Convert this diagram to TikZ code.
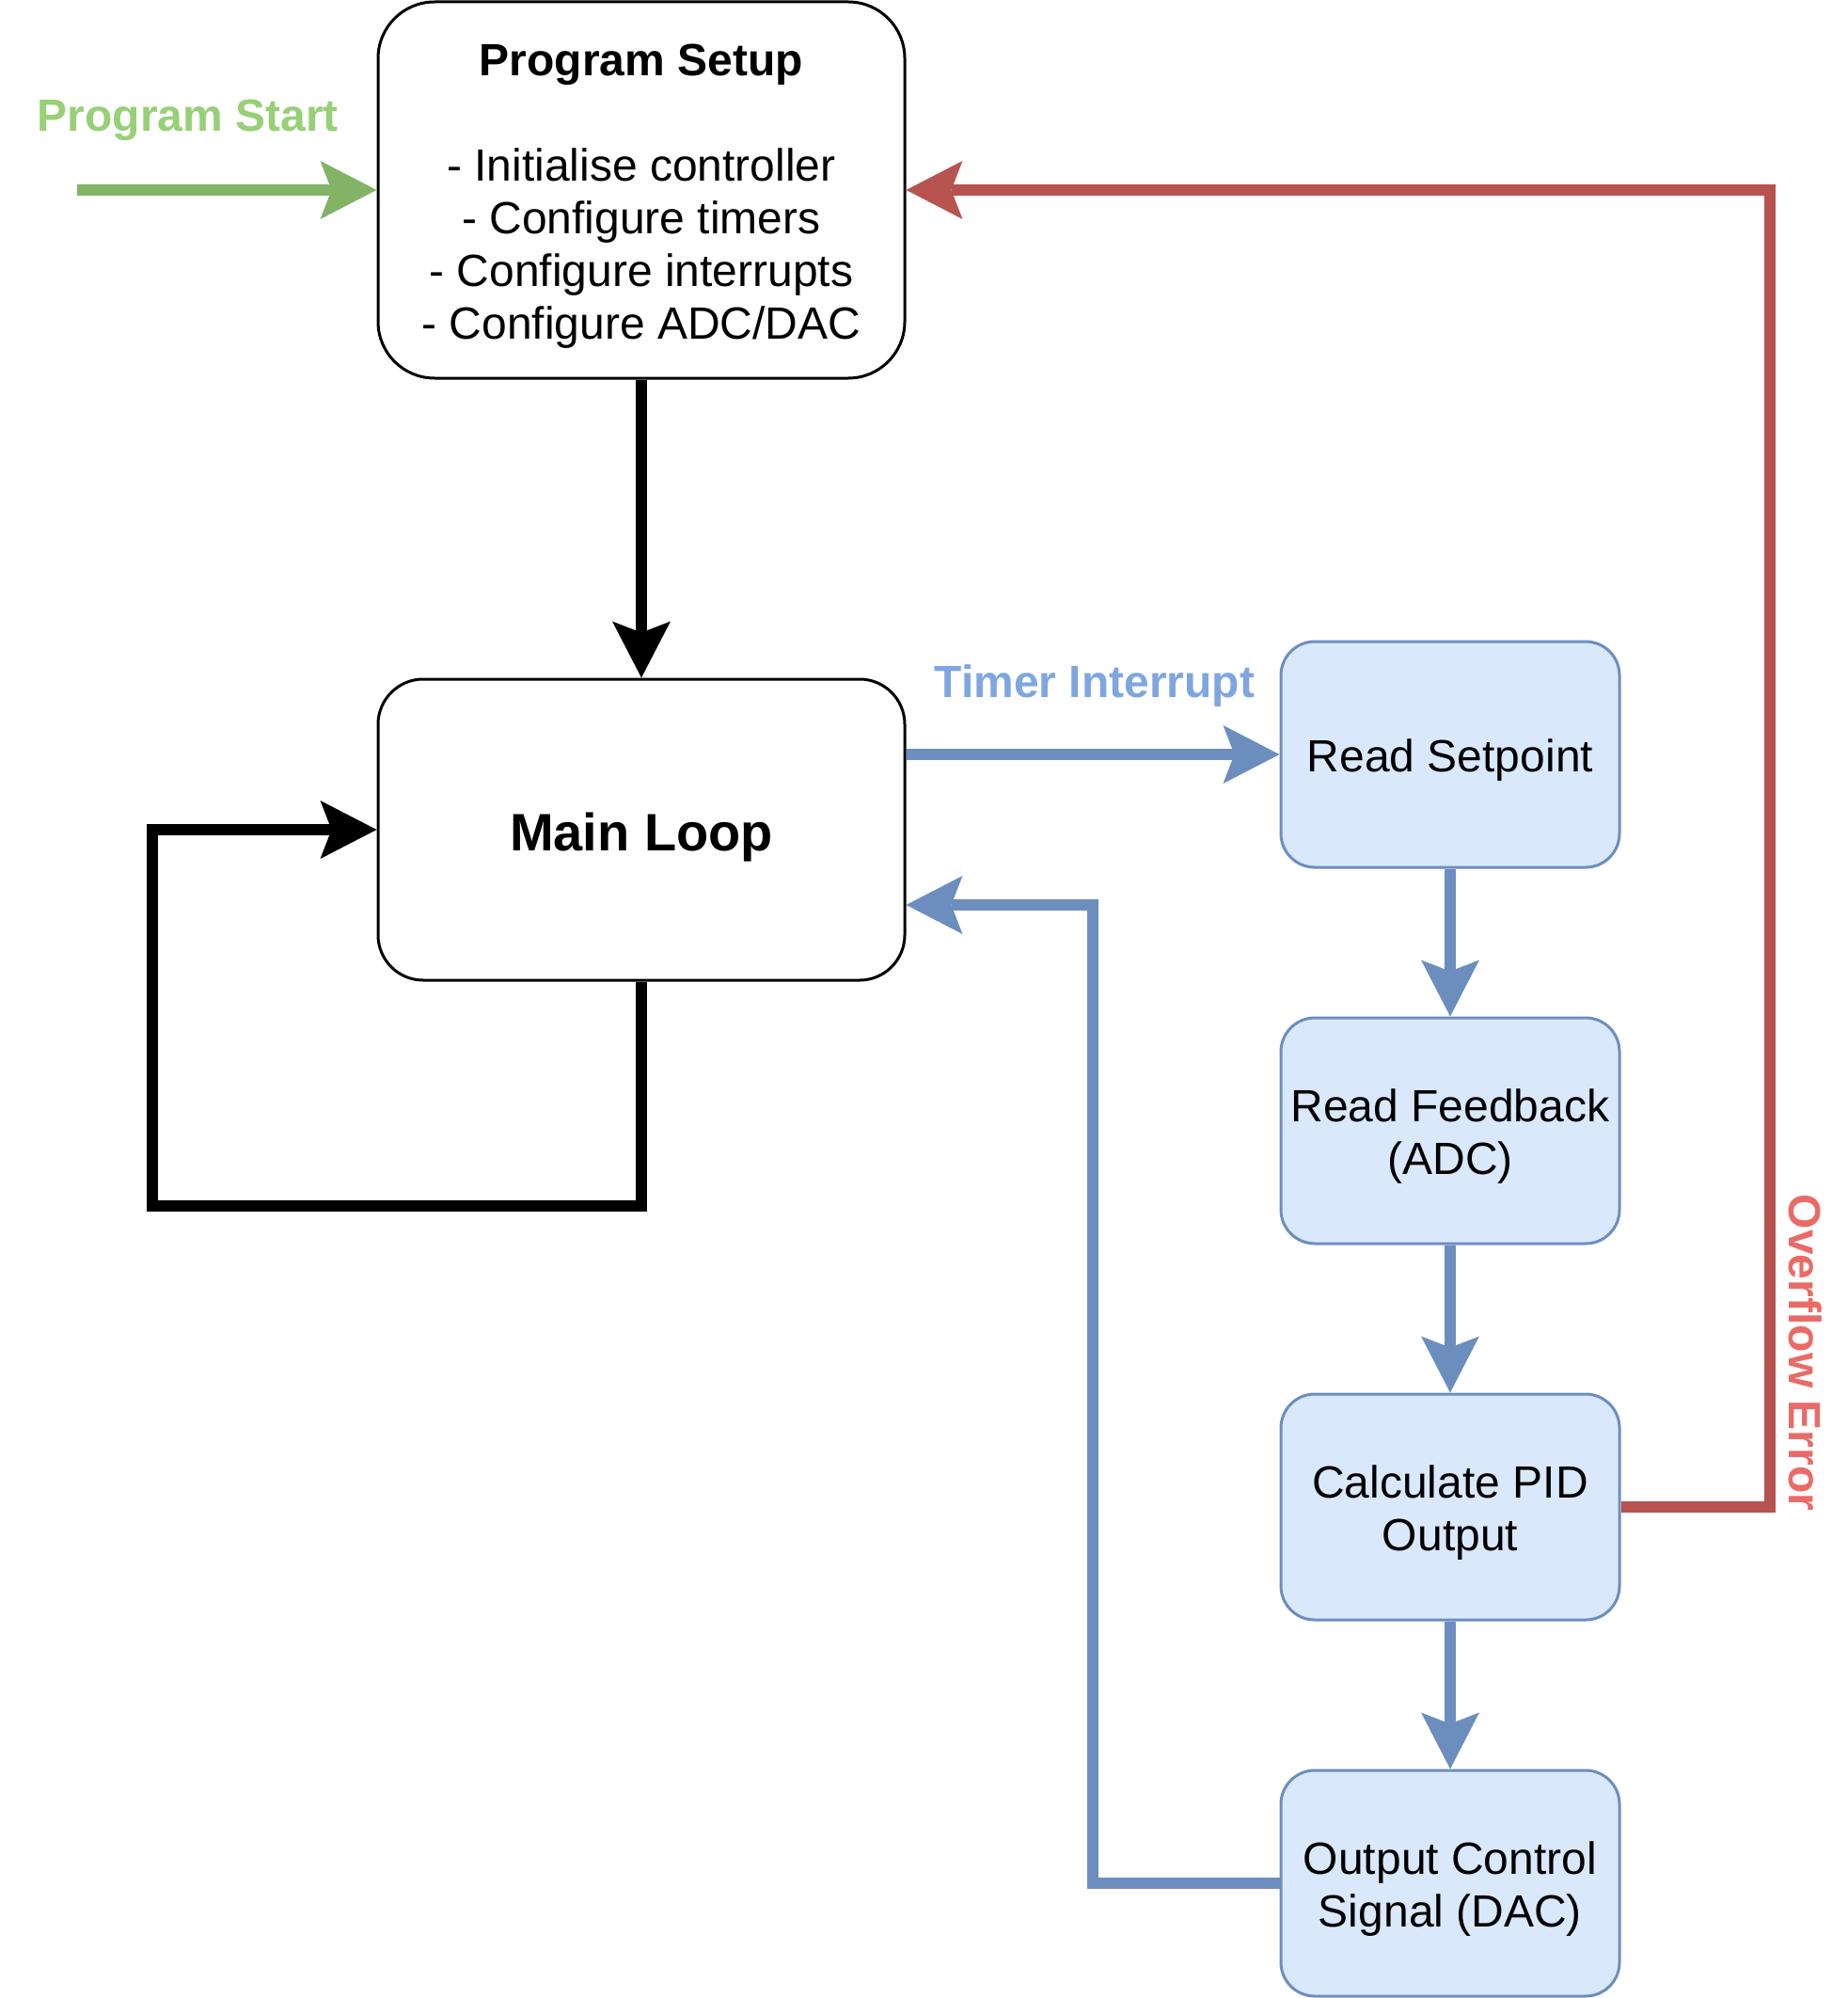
\documentclass[tikz,border=0pt]{standalone}
\usepackage{fontspec}
\setmainfont{Liberation Sans}
\usetikzlibrary{arrows.meta}
\definecolor{bluefill}{HTML}{DAE8FC}
\definecolor{bluestroke}{HTML}{6C8EBF}
\definecolor{redstroke}{HTML}{B85450}
\definecolor{greenstroke}{HTML}{82B366}
\definecolor{greenlabel}{HTML}{97D077}
\definecolor{bluelabel}{HTML}{7EA6E0}
\definecolor{redlabel}{HTML}{EA6B66}
\begin{document}
\begin{tikzpicture}[x=1pt,y=-1pt,
  txt/.style={font=\fontsize{24}{28}\selectfont, align=center, inner sep=0pt},
  lbl/.style={font=\fontsize{24}{28}\selectfont\bfseries, inner sep=0pt},
  blackbox/.style={draw=black, line width=1.5pt, fill=white, rounded corners=#1,
    minimum width=280pt, inner sep=0pt},
  bluebox/.style={draw=bluestroke, fill=bluefill, line width=1.5pt, rounded corners=18pt,
    minimum width=180pt, minimum height=120pt, inner sep=0pt},
  conn/.style={line width=6pt, line join=miter,
    -{Stealth[length=30pt,width=31pt,inset=6pt,line width=0pt]}},
]
\useasboundingbox (0,0) rectangle (982,1062);

% boxes
\node[blackbox=30pt, minimum height=200pt] (setup) at (341,101) {};
\node[blackbox=24pt, minimum height=160pt] (main) at (341,441) {};
\node[bluebox] (sp)  at (771,401)  {};
\node[bluebox] (fb)  at (771,601)  {};
\node[bluebox] (pid) at (771,801)  {};
\node[bluebox] (out) at (771,1001) {};

% box texts
\node[txt] (setup-t) at ([yshift=-3.5pt]setup.center)
  {\textbf{Program Setup}\\[28pt]- Initialise controller\\- Configure timers\\- Configure interrupts\\- Configure ADC/DAC};
\node[txt, font=\fontsize{28}{34}\selectfont\bfseries] (main-t) at ([yshift=-4pt]main.center) {Main Loop};
\node[txt] (sp-t)  at ([yshift=-3pt]sp.center)  {Read Setpoint};
\node[txt] (fb-t)  at ([yshift=-3pt]fb.center)  {Read Feedback\\(ADC)};
\node[txt] (pid-t) at ([yshift=-3pt]pid.center) {Calculate PID\\Output};
\node[txt] (out-t) at ([yshift=-3pt]out.center) {Output Control\\Signal (DAC)};

% labels
\node[lbl, text=greenlabel] (lstart) at (100,64) {Program Start};
\node[lbl, text=bluelabel] (ltimer) at (582,364.5) {Timer Interrupt};
\node[lbl, text=redlabel, rotate=-90] (lover) at (960,719) {Overflow Error};

% helper coordinates
\coordinate (gstart) at (41,101);
\coordinate (l1) at (81,641);
\coordinate (r1) at (581,481);
\coordinate (r2) at (941,101);

% connectors
\draw[conn, draw=greenstroke] (gstart) -- (setup.west);
\draw[conn, draw=black] (setup.south) -- (main.north);
\draw[conn, draw=black] (main.south) |- (l1) |- (main.west);
\draw[conn, draw=bluestroke] (main.east |- sp.west) -- (sp.west);
\draw[conn, draw=bluestroke] (sp.south) -- (fb.north);
\draw[conn, draw=bluestroke] (fb.south) -- (pid.north);
\draw[conn, draw=bluestroke] (pid.south) -- (out.north);
\draw[conn, draw=bluestroke] (out.west) -| (r1) -- (main.east |- r1);
\draw[conn, draw=redstroke] (pid.east) -| (r2) -- (setup.east);
\end{tikzpicture}
\end{document}
